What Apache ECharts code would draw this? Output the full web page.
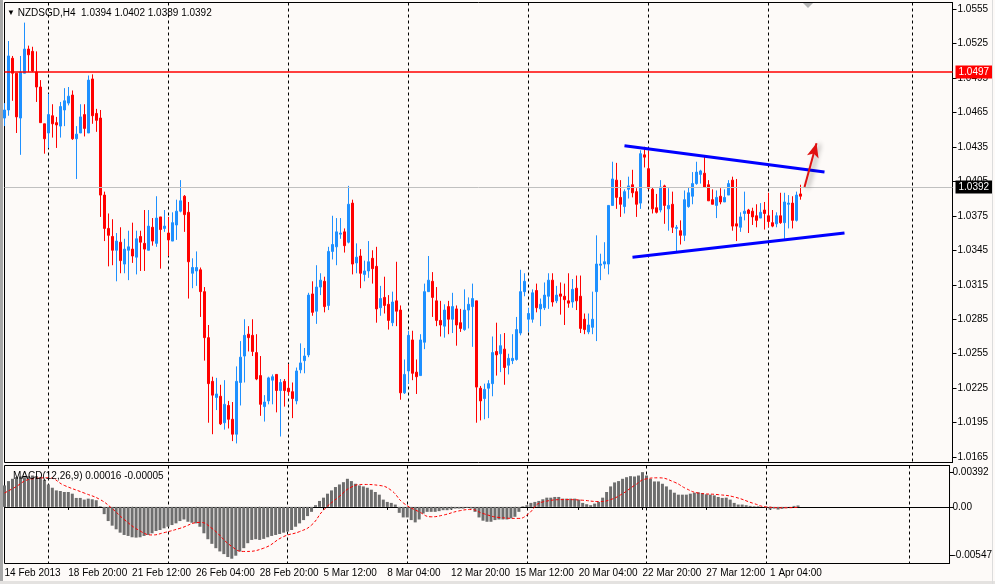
<!DOCTYPE html>
<html>
<head>
<meta charset="utf-8">
<title>NZDSGD,H4</title>
<script src="https://cdn.jsdelivr.net/npm/echarts@6.0.0/dist/echarts.min.js"></script>
<style>
  html, body { margin: 0; padding: 0; background: #fdfaf8; }
  #chart { width: 995px; height: 584px; }
  .edge-left { position: absolute; left: 0; top: 0; width: 3px; height: 584px; background: #a8a8a8; }
  .edge-bottom { position: absolute; left: 0; top: 581px; width: 995px; height: 3px; background: #e4e2e0; }
  .edge-right { position: absolute; left: 992px; top: 0; width: 1px; height: 584px; background: #dcdcdc; }
</style>
</head>
<body>
<div id="chart"></div>
<div class="edge-left"></div>
<div class="edge-bottom"></div>
<div class="edge-right"></div>
<script>
// NZDSGD H4 candles
var opens = [
  1.0460,1.0467,1.0512,1.0499,1.0460,1.0499,1.0520,1.0518,1.0500,1.0487,
  1.0455,1.0447,1.0462,1.0456,1.0453,1.0467,1.0473,1.0480,1.0442,1.0447,
  1.0463,1.0447,1.0494,1.0464,1.0460,1.0393,1.0364,1.0357,1.0345,1.0352,
  1.0333,1.0345,1.0346,1.0339,1.0357,1.0351,1.0345,1.0365,1.0351,1.0374,
  1.0364,1.0360,1.0353,1.0367,1.0379,1.0392,1.0378,1.0325,1.0327,1.0328,
  1.0309,1.0269,1.0231,1.0217,1.0218,1.0195,1.0210,1.0198,1.0185,1.0230,
  1.0253,1.0272,1.0271,1.0256,1.0236,1.0209,1.0214,1.0232,1.0237,1.0223,
  1.0231,1.0225,1.0222,1.0214,1.0241,1.0249,1.0254,1.0307,1.0292,1.0313,
  1.0318,1.0297,1.0344,1.0348,1.0359,1.0361,1.0352,1.0386,1.0334,1.0340,
  1.0324,1.0327,1.0338,1.0331,1.0295,1.0304,1.0298,1.0282,1.0301,1.0293,
  1.0221,1.0240,1.0267,1.0239,1.0236,1.0265,1.0309,1.0318,1.0301,1.0284,
  1.0279,1.0296,1.0285,1.0294,1.0282,1.0276,1.0293,1.0296,1.0301,1.0225,
  1.0216,1.0225,1.0229,1.0257,1.0255,1.0259,1.0245,1.0249,1.0250,1.0273,
  1.0309,1.0285,1.0285,1.0310,1.0294,1.0295,1.0305,1.0319,1.0301,1.0307,
  1.0305,1.0301,1.0300,1.0312,1.0305,1.0285,1.0274,1.0278,1.0309,1.0332,
  1.0333,1.0333,1.0384,1.0406,1.0391,1.0383,1.0398,1.0402,1.0396,1.0386,
  1.0428,1.0416,1.0398,1.0382,1.0380,1.0401,1.0381,1.0385,1.0364,1.0362,
  1.0358,1.0383,1.0392,1.0403,1.0411,1.0412,1.0402,1.0389,1.0384,1.0392,
  1.0387,1.0393,1.0406,1.0368,1.0365,1.0377,1.0380,1.0379,1.0375,1.0373,
  1.0380,1.0375,1.0369,1.0368,1.0375,1.0369,1.0385,1.0386,1.0371,1.0394
];
var highs = [
  1.0473,1.0527,1.0514,1.0499,1.0514,1.0543,1.0523,1.0522,1.0518,1.0493,
  1.0455,1.0481,1.0472,1.0461,1.0474,1.0486,1.0487,1.0484,1.0453,1.0472,
  1.0472,1.0497,1.0498,1.0468,1.0467,1.0396,1.0377,1.0372,1.0360,1.0365,
  1.0355,1.0362,1.0369,1.0362,1.0362,1.0380,1.0380,1.0373,1.0392,1.0374,
  1.0380,1.0374,1.0378,1.0389,1.0406,1.0393,1.0387,1.0338,1.0344,1.0330,
  1.0313,1.0280,1.0235,1.0234,1.0228,1.0232,1.0214,1.0213,1.0244,1.0266,
  1.0285,1.0279,1.0285,1.0272,1.0253,1.0219,1.0235,1.0237,1.0237,1.0233,
  1.0233,1.0246,1.0230,1.0243,1.0264,1.0260,1.0308,1.0318,1.0332,1.0325,
  1.0322,1.0348,1.0375,1.0373,1.0373,1.0364,1.0401,1.0389,1.0351,1.0346,
  1.0336,1.0353,1.0345,1.0348,1.0314,1.0322,1.0306,1.0309,1.0335,1.0297,
  1.0250,1.0275,1.0275,1.0250,1.0272,1.0316,1.0340,1.0326,1.0313,1.0301,
  1.0298,1.0301,1.0308,1.0297,1.0294,1.0311,1.0304,1.0316,1.0301,1.0227,
  1.0229,1.0232,1.0270,1.0282,1.0272,1.0273,1.0255,1.0272,1.0287,1.0328,
  1.0325,1.0295,1.0311,1.0316,1.0303,1.0317,1.0325,1.0325,1.0314,1.0317,
  1.0316,1.0325,1.0320,1.0323,1.0323,1.0290,1.0290,1.0309,1.0358,1.0342,
  1.0352,1.0384,1.0422,1.0421,1.0406,1.0398,1.0409,1.0415,1.0399,1.0432,
  1.0435,1.0432,1.0400,1.0394,1.0406,1.0402,1.0399,1.0396,1.0367,1.0371,
  1.0397,1.0400,1.0413,1.0422,1.0415,1.0427,1.0406,1.0398,1.0397,1.0399,
  1.0398,1.0406,1.0409,1.0407,1.0378,1.0396,1.0381,1.0382,1.0385,1.0386,
  1.0387,1.0395,1.0380,1.0378,1.0395,1.0395,1.0393,1.0392,1.0396,1.0402
];
var lows = [
  1.0453,1.0462,1.0475,1.0447,1.0428,1.0499,1.0500,1.0500,1.0474,1.0456,
  1.0429,1.0434,1.0443,1.0434,1.0443,1.0453,1.0471,1.0441,1.0407,1.0447,
  1.0444,1.0447,1.0455,1.0448,1.0374,1.0353,1.0331,1.0332,1.0318,1.0325,
  1.0325,1.0319,1.0334,1.0324,1.0327,1.0327,1.0345,1.0349,1.0348,1.0329,
  1.0361,1.0340,1.0353,1.0354,1.0378,1.0361,1.0303,1.0312,1.0314,1.0287,
  1.0249,1.0195,1.0185,1.0206,1.0193,1.0189,1.0190,1.0179,1.0177,1.0210,
  1.0230,1.0257,1.0253,1.0232,1.0201,1.0196,1.0211,1.0211,1.0204,1.0183,
  1.0209,1.0219,1.0199,1.0211,1.0238,1.0238,1.0252,1.0288,1.0281,1.0306,
  1.0291,1.0293,1.0337,1.0332,1.0355,1.0343,1.0351,1.0324,1.0325,1.0312,
  1.0318,1.0321,1.0316,1.0282,1.0288,1.0290,1.0276,1.0279,1.0279,1.0215,
  1.0220,1.0229,1.0232,1.0220,1.0236,1.0259,1.0309,1.0287,1.0279,1.0270,
  1.0269,1.0272,1.0273,1.0262,1.0274,1.0275,1.0277,1.0261,1.0195,1.0197,
  1.0198,1.0199,1.0218,1.0236,1.0239,1.0228,1.0237,1.0246,1.0249,1.0271,
  1.0305,1.0274,1.0282,1.0291,1.0279,1.0293,1.0294,1.0296,1.0299,1.0289,
  1.0280,1.0295,1.0295,1.0293,1.0273,1.0272,1.0272,1.0272,1.0266,1.0319,
  1.0329,1.0324,1.0384,1.0381,1.0374,1.0377,1.0390,1.0391,1.0374,1.0381,
  1.0417,1.0398,1.0377,1.0377,1.0378,1.0368,1.0362,1.0360,1.0344,1.0350,
  1.0353,1.0382,1.0385,1.0402,1.0403,1.0400,1.0388,1.0385,1.0373,1.0385,
  1.0387,1.0393,1.0362,1.0353,1.0361,1.0371,1.0360,1.0367,1.0365,1.0373,
  1.0363,1.0365,1.0365,1.0365,1.0368,1.0355,1.0364,1.0364,1.0370,1.0389
];
var closes = [
  1.0467,1.0514,1.0499,1.0461,1.0500,1.0520,1.0515,1.0501,1.0487,1.0456,
  1.0442,1.0463,1.0455,1.0454,1.0470,1.0475,1.0479,1.0442,1.0446,1.0461,
  1.0451,1.0493,1.0462,1.0458,1.0393,1.0364,1.0358,1.0345,1.0353,1.0336,
  1.0346,1.0348,1.0340,1.0355,1.0352,1.0346,1.0366,1.0353,1.0373,1.0363,
  1.0366,1.0354,1.0369,1.0379,1.0388,1.0376,1.0335,1.0330,1.0330,1.0309,
  1.0269,1.0229,1.0219,1.0220,1.0194,1.0211,1.0198,1.0185,1.0231,1.0252,
  1.0271,1.0269,1.0257,1.0233,1.0211,1.0213,1.0234,1.0235,1.0223,1.0230,
  1.0223,1.0222,1.0216,1.0240,1.0247,1.0253,1.0306,1.0291,1.0313,1.0319,
  1.0296,1.0344,1.0350,1.0361,1.0360,1.0349,1.0385,1.0333,1.0339,1.0325,
  1.0327,1.0335,1.0329,1.0294,1.0303,1.0297,1.0284,1.0300,1.0292,1.0221,
  1.0237,1.0271,1.0238,1.0235,1.0267,1.0309,1.0319,1.0304,1.0284,1.0280,
  1.0293,1.0285,1.0296,1.0280,1.0277,1.0293,1.0298,1.0303,1.0226,1.0214,
  1.0224,1.0229,1.0256,1.0254,1.0262,1.0243,1.0251,1.0251,1.0276,1.0309,
  1.0318,1.0290,1.0308,1.0295,1.0298,1.0306,1.0319,1.0300,1.0306,1.0305,
  1.0302,1.0299,1.0311,1.0301,1.0277,1.0276,1.0280,1.0285,1.0333,1.0333,
  1.0335,1.0384,1.0407,1.0391,1.0385,1.0396,1.0401,1.0395,1.0385,1.0429,
  1.0426,1.0399,1.0381,1.0378,1.0400,1.0384,1.0384,1.0365,1.0365,1.0358,
  1.0389,1.0395,1.0403,1.0413,1.0414,1.0400,1.0388,1.0385,1.0391,1.0387,
  1.0391,1.0403,1.0366,1.0366,1.0374,1.0379,1.0377,1.0374,1.0371,1.0378,
  1.0377,1.0370,1.0366,1.0375,1.0369,1.0387,1.0386,1.0371,1.0393,1.0392
];

// MACD(12,26,9) histogram per bar and the signal line sampled along the chart
var macdHist = [
  0.00242,0.00291,0.00317,0.00335,0.00343,0.00335,0.00347,0.00354,0.00347,0.00335,
  0.00306,0.00253,0.00216,0.00186,0.00179,0.00168,0.00168,0.00149,0.00101,0.00101,
  0.00082,0.00093,0.00086,0.00075,0.00007,-0.00082,-0.00160,-0.00212,-0.00253,-0.00291,
  -0.00317,-0.00328,-0.00343,-0.00347,-0.00343,-0.00328,-0.00317,-0.00298,-0.00272,-0.00261,
  -0.00242,-0.00224,-0.00205,-0.00186,-0.00160,-0.00142,-0.00168,-0.00179,-0.00186,-0.00224,
  -0.00298,-0.00365,-0.00417,-0.00466,-0.00503,-0.00533,-0.00566,-0.00585,-0.00551,-0.00503,
  -0.00466,-0.00410,-0.00373,-0.00365,-0.00373,-0.00361,-0.00343,-0.00328,-0.00317,-0.00306,
  -0.00291,-0.00279,-0.00261,-0.00224,-0.00186,-0.00149,-0.00104,-0.00056,0.00019,0.00067,
  0.00104,0.00149,0.00186,0.00224,0.00253,0.00279,0.00317,0.00291,0.00261,0.00242,
  0.00231,0.00216,0.00194,0.00168,0.00138,0.00082,0.00056,0.00045,0.00026,-0.00067,
  -0.00119,-0.00119,-0.00149,-0.00175,-0.00142,-0.00075,-0.00056,-0.00056,-0.00056,-0.00048,
  -0.00037,-0.00037,-0.00030,-0.00019,-0.00019,-0.00019,-0.00011,-0.00019,-0.00056,-0.00119,
  -0.00156,-0.00168,-0.00168,-0.00149,-0.00142,-0.00142,-0.00142,-0.00130,-0.00112,-0.00056,
  0.00007,0.00019,0.00045,0.00056,0.00067,0.00086,0.00104,0.00104,0.00112,0.00112,
  0.00093,0.00093,0.00093,0.00093,0.00082,0.00045,0.00030,0.00019,0.00037,0.00056,
  0.00104,0.00168,0.00231,0.00276,0.00291,0.00317,0.00335,0.00347,0.00343,0.00354,
  0.00392,0.00354,0.00317,0.00287,0.00287,0.00261,0.00231,0.00194,0.00160,0.00138,
  0.00138,0.00138,0.00149,0.00160,0.00164,0.00156,0.00142,0.00138,0.00130,0.00112,
  0.00101,0.00104,0.00082,0.00045,0.00026,0.00026,0.00019,0.00011,0.00007,0.00007,
  0.00000,-0.00007,-0.00030,-0.00019,-0.00030,-0.00022,-0.00015,-0.00002,0.00011,0.00016
];
var macdSignal = [
  [0,0.00156],[2,0.00205],[7,0.00317],[11,0.00328],[15,0.00242],[20,0.00156],[24,0.00082],
  [27,-0.00019],[30,-0.00142],[34,-0.00272],[37,-0.00317],[40,-0.00291],[44,-0.00242],
  [49,-0.00175],[52,-0.00242],[57,-0.00447],[60,-0.00503],[65,-0.00466],[70,-0.00335],
  [74,-0.00279],[77,-0.00205],[80,-0.00037],[84,0.00119],[87,0.00224],[90,0.00253],
  [94,0.00242],[97,0.00186],[100,0.00045],[104,-0.00056],[107,-0.00112],[110,-0.00093],
  [114,-0.00045],[117,-0.00030],[120,-0.00075],[124,-0.00119],[129,-0.00130],[131,-0.00093],
  [135,0.00056],[141,0.00082],[145,0.00075],[149,0.00060],[152,0.00082],[155,0.00149],
  [158,0.00242],[161,0.00317],[164,0.00328],[168,0.00279],[171,0.00205],[174,0.00156],
  [179,0.00138],[183,0.00112],[188,0.00037],[191,0.00000],[196,-0.00010],[199,-0.00005]
];

// axis ticks as MT4 shows them
var priceTicks = [1.0555,1.0525,1.0495,1.0465,1.0435,1.0405,1.0375,1.0345,1.0315,1.0285,1.0255,1.0225,1.0195,1.0165];
var macdTicks = [0.00392, 0, -0.00547];

// horizontal level, bid line and hand-drawn objects (bar index, price)
var levelLine = 1.0497;
var bidLine = 1.0392;
var upperTrend = [[155, 1.0436], [205, 1.0413]];
var lowerTrend = [[157, 1.0339], [210, 1.0360]];
var arrowLine = [[200, 1.0400], [203, 1.0438]];

// time axis: H4 bars from 14 Feb 2013 04:00, weekends skipped, then empty space on the right
var barCount = closes.length;
var slotCount = 238;
var H4 = 4 * 3600 * 1000;
var months = ['Jan','Feb','Mar','Apr','May','Jun','Jul','Aug','Sep','Oct','Nov','Dec'];
var times = [];
var t = Date.UTC(2013, 1, 14, 4);
for (var i = 0; i < slotCount; i++) {
  times.push(t);
  t += H4;
  if (i < barCount - 1) {
    while (new Date(t).getUTCDay() === 6 || new Date(t).getUTCDay() === 0) t += H4;
  }
}
var weekRef = Date.UTC(2013, 1, 10);
function weekOf(ms) { return Math.floor((ms - weekRef) / (7 * 86400000)); }
function pad(n) { return (n < 10 ? '0' : '') + n; }
var cats = times.map(function (ms, i) {
  var d = new Date(ms);
  var day = d.getUTCDate() + ' ' + months[d.getUTCMonth()];
  return i === 0 ? day + ' ' + d.getUTCFullYear() : day + ' ' + pad(d.getUTCHours()) + ':' + pad(d.getUTCMinutes());
});
function isWeekStart(idx) { return idx > 0 && weekOf(times[idx]) !== weekOf(times[idx - 1]); }
function isLabelBar(idx) { return idx % 16 === 0 && idx < barCount; }

var candles = opens.map(function (o, i) { return [o, closes[i], lows[i], highs[i]]; });

var font = 'Liberation Sans';
var last = barCount - 1;
var header = '{tri|▼} NZDSGD,H4  ' + opens[last].toFixed(4) + ' ' + highs[last].toFixed(4) + ' ' +
  lows[last].toFixed(4) + ' ' + closes[last].toFixed(4);
var macdHeader = 'MACD(12,26,9) ' + macdHist[last].toFixed(5) + ' ' + macdSignal[macdSignal.length - 1][1].toFixed(5);

var gridLine = { show: true, interval: function (idx) { return isWeekStart(idx); },
  lineStyle: { color: '#000', type: [3, 3], width: 1 } };

var myChart = echarts.init(document.getElementById('chart'));

var option = {
  animation: false,
  backgroundColor: '#fdfaf8',
  textStyle: { fontFamily: font },
  title: [
    { text: header, left: 2, top: 3,
      textStyle: { fontSize: 10, fontWeight: 'normal', color: '#000', fontFamily: font,
        rich: { tri: { fontSize: 8, color: '#000' } } } },
    { text: macdHeader, left: 8, top: 466,
      textStyle: { fontSize: 10, fontWeight: 'normal', color: '#000', fontFamily: font } }
  ],
  grid: [
    { left: 4.5, top: 2.5, width: 948, height: 460, show: true, borderColor: '#000', borderWidth: 1, backgroundColor: 'transparent' },
    { left: 4.5, top: 465.5, width: 948, height: 98, show: true, borderColor: '#000', borderWidth: 1, backgroundColor: 'transparent' }
  ],
  xAxis: [
    { type: 'category', gridIndex: 0, data: cats, boundaryGap: false,
      axisLine: { show: false }, axisTick: { show: false }, axisLabel: { show: false },
      splitLine: gridLine },
    { type: 'category', gridIndex: 1, data: cats, boundaryGap: false,
      axisLine: { show: true, lineStyle: { color: '#000' } },
      axisTick: { show: true, length: 3, interval: function (idx) { return isLabelBar(idx); }, lineStyle: { color: '#000' } },
      axisLabel: { interval: function (idx) { return isLabelBar(idx); }, align: 'left', margin: 5,
        fontSize: 10, color: '#000', fontFamily: font,
        formatter: function (v) { return v; } },
      splitLine: gridLine }
  ],
  yAxis: [
    { type: 'value', gridIndex: 0, position: 'right', min: 1.01604, max: 1.05605,
      splitLine: { show: false },
      axisLine: { show: true, lineStyle: { color: '#000' } },
      axisTick: { show: true, length: 4, customValues: priceTicks, lineStyle: { color: '#000' } },
      axisLabel: { customValues: priceTicks, margin: 5, fontSize: 10, color: '#000', fontFamily: font,
        formatter: function (v) { return v.toFixed(4); } } },
    { type: 'value', gridIndex: 1, position: 'right', min: -0.00639, max: 0.00467,
      splitLine: { show: false },
      axisLine: { show: true, lineStyle: { color: '#000' } },
      axisTick: { show: true, length: 4, customValues: macdTicks, lineStyle: { color: '#000' } },
      axisLabel: { customValues: macdTicks, margin: 3, fontSize: 10, color: '#000', fontFamily: font,
        formatter: function (v) { return v === 0 ? '0.00' : v.toFixed(5); } } }
  ],
  series: [
    {
      name: 'NZDSGD', type: 'candlestick', xAxisIndex: 0, yAxisIndex: 0,
      data: candles, barWidth: 3, clip: true,
      itemStyle: { color: '#1e90ff', color0: '#ff0000', borderColor: '#1e90ff', borderColor0: '#ff0000', borderWidth: 1 },
      markLine: {
        silent: true, symbol: ['none', 'none'], animation: false,
        lineStyle: { color: '#ff0000', type: 'solid', width: 1 },
        data: [
          { yAxis: levelLine, lineStyle: { color: '#ff0000', type: 'solid', width: 1.5 },
            label: { position: 'end', distance: 3, formatter: levelLine.toFixed(4), color: '#fff',
              backgroundColor: '#ff0000', padding: [2, 3, 1, 3], fontSize: 10, fontFamily: font } },
          { yAxis: bidLine, lineStyle: { color: '#c0c0c0', type: 'solid', width: 1 },
            label: { position: 'end', distance: 3, formatter: bidLine.toFixed(4), color: '#fff',
              backgroundColor: '#000', padding: [2, 3, 1, 3], fontSize: 10, fontFamily: font } }
        ]
      }
    },
    {
      name: 'upper', type: 'line', xAxisIndex: 0, yAxisIndex: 0, data: upperTrend,
      showSymbol: false, silent: true, lineStyle: { color: '#0000ff', width: 3 },
      markLine: {
        silent: true, animation: false,
        symbol: ['none', 'arrow'], symbolSize: [9, 14],
        lineStyle: { color: '#e01010', width: 2, type: 'solid',
          shadowBlur: 5, shadowColor: 'rgba(0,0,0,0.45)', shadowOffsetX: 3, shadowOffsetY: 1 },
        itemStyle: { color: '#e01010', shadowBlur: 6, shadowColor: 'rgba(0,0,0,0.5)', shadowOffsetX: 3 },
        label: { show: false },
        data: [[{ coord: arrowLine[0] }, { coord: arrowLine[1] }]]
      }
    },
    {
      name: 'lower', type: 'line', xAxisIndex: 0, yAxisIndex: 0, data: lowerTrend,
      showSymbol: false, silent: true, lineStyle: { color: '#0000ff', width: 3 }
    },
    {
      name: 'MACD', type: 'bar', xAxisIndex: 1, yAxisIndex: 1, data: macdHist,
      barWidth: 3, itemStyle: { color: '#6e6e6e' }
    },
    {
      name: 'Signal', type: 'line', xAxisIndex: 1, yAxisIndex: 1, data: macdSignal,
      smooth: true, showSymbol: false, silent: true,
      lineStyle: { color: '#ff0000', width: 1, type: [3, 2] }
    }
  ],
  graphic: [
    { type: 'polygon', shape: { points: [[803, 3], [813, 3], [808, 8]] }, style: { fill: '#b4b4b4' }, silent: true }
  ]
};

myChart.setOption(option);

window.addEventListener('resize', function () {
  myChart.resize();
});
</script>
</body>
</html>
